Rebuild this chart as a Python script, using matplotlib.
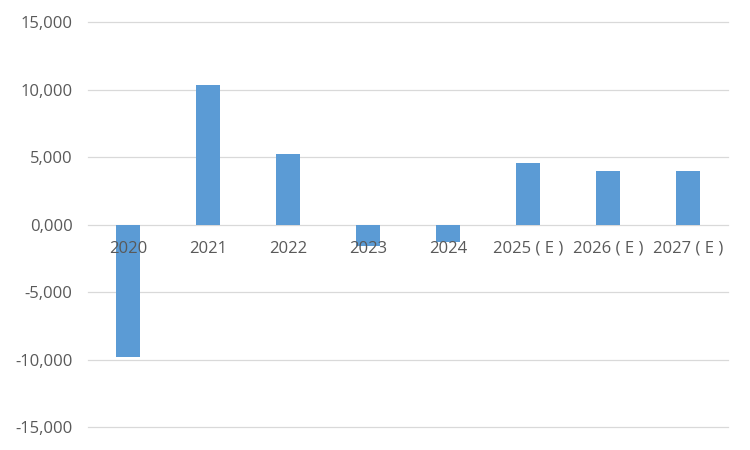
import matplotlib
matplotlib.use('Agg')
import matplotlib.pyplot as plt
from matplotlib.ticker import FuncFormatter

# Data
categories = ['2020', '2021', '2022', '2023', '2024', '2025 ( E )', '2026 ( E )', '2027 ( E )']
values = [-9.83, 10.37, 5.24, -1.58, -1.31, 4.52, 4.0, 4.0]
y_ticks = [-15, -10, -5, 0, 5, 10, 15]

BAR_COLOR = '#5B9BD5'
TEXT_COLOR = '#595959'
GRID_COLOR = '#D9D9D9'

plt.rcParams['font.family'] = ['Open Sans', 'DejaVu Sans']

fig = plt.figure(figsize=(7.5, 4.5), dpi=100)
ax = fig.add_axes([0.1173, 0.0511, 0.8533, 0.9])

x = list(range(len(categories)))
ax.bar(x, values, width=0.31, color=BAR_COLOR, zorder=3)

ax.set_xlim(-0.5, len(categories) - 0.5)
ax.set_ylim(-15, 15)
ax.set_yticks(y_ticks)
ax.yaxis.set_major_formatter(FuncFormatter(lambda v, p: f"{v:.3f}".replace('.', ',')))
ax.tick_params(axis='y', length=0, labelsize=12, labelcolor=TEXT_COLOR, pad=11)
ax.set_xticks([])

ax.grid(axis='y', color=GRID_COLOR, linewidth=0.9, zorder=0)
for gl in ax.get_ygridlines():
    gl.set_clip_on(False)
for s in ax.spines.values():
    s.set_visible(False)

# category labels sit just under the zero line, on top of the bars
for xi, lab in zip(x, categories):
    ax.annotate(lab, (xi, 0), xytext=(0, -24), textcoords='offset pixels',
                ha='center', va='center', fontsize=12, color=TEXT_COLOR, zorder=4)

fig.savefig('out.png', dpi=100)
